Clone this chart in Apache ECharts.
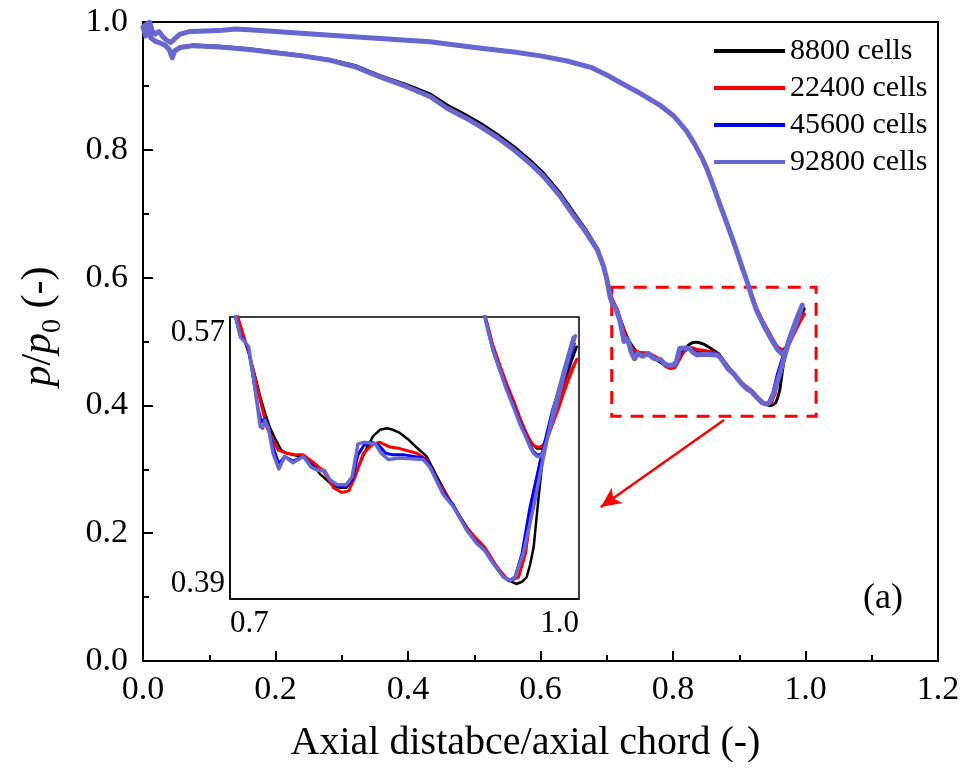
<!DOCTYPE html>
<html>
<head>
<meta charset="utf-8">
<script src="https://cdn.jsdelivr.net/npm/echarts@6/dist/echarts.min.js"></script>
<style>html,body{margin:0;padding:0;background:#fff;}#c{width:963px;height:776px;}</style>
</head>
<body>
<div id="c"></div>
<script>
// ---------- data ----------
const seriesNames = ['8800 cells', '22400 cells', '45600 cells', '92800 cells'];
const seriesColors = ['#000000', '#ff0000', '#0000ff', '#6767cf'];

// suction side (lower curve), leading part shared by the finer meshes
const ssFront = [[0,0.992],[0.004,0.978],[0.008,0.990],[0.012,0.975],[0.018,0.970],[0.026,0.967],[0.034,0.963],[0.040,0.956],[0.044,0.944],[0.048,0.955],[0.056,0.960],[0.076,0.963],[0.116,0.961],[0.16,0.957],[0.20,0.952],[0.24,0.947],[0.283,0.940],[0.32,0.930],[0.358,0.914],[0.40,0.898],[0.434,0.883],[0.459,0.865],[0.485,0.851],[0.51,0.836],[0.535,0.819],[0.56,0.800],[0.585,0.778],[0.605,0.758],[0.63,0.727],[0.65,0.697],[0.668,0.672],[0.686,0.643],[0.695,0.618],[0.700,0.598]];
const ssFront8800 = [[0,0.992],[0.004,0.980],[0.008,0.988],[0.012,0.976],[0.018,0.971],[0.026,0.968],[0.034,0.964],[0.040,0.958],[0.044,0.950],[0.048,0.956],[0.056,0.961],[0.076,0.964],[0.116,0.962],[0.16,0.958],[0.20,0.953],[0.24,0.948],[0.283,0.941],[0.32,0.932],[0.358,0.916],[0.40,0.901],[0.434,0.887],[0.459,0.870],[0.485,0.856],[0.51,0.841],[0.535,0.824],[0.56,0.805],[0.585,0.783],[0.605,0.763],[0.63,0.732],[0.65,0.702],[0.668,0.676],[0.686,0.646],[0.695,0.620],[0.700,0.600]];

const ss8800Tail = [[0.704,0.582],[0.707,0.569],[0.712,0.557],[0.717,0.545],[0.722,0.531],[0.726,0.519],[0.730,0.509],[0.734,0.500],[0.739,0.492],[0.744,0.485],[0.749,0.483],[0.754,0.482],[0.760,0.481],[0.766,0.480],[0.772,0.476],[0.777,0.470],[0.783,0.466],[0.789,0.462],[0.795,0.461],[0.800,0.461],[0.806,0.467],[0.812,0.477],[0.818,0.487],[0.823,0.494],[0.829,0.498],[0.835,0.499],[0.840,0.498],[0.846,0.496],[0.853,0.492],[0.860,0.487],[0.869,0.481],[0.878,0.468],[0.889,0.453],[0.9035,0.436],[0.912,0.428],[0.918,0.423],[0.924,0.416],[0.929,0.411],[0.935,0.405],[0.939,0.402],[0.946,0.3996],[0.951,0.401],[0.955,0.404],[0.958,0.412],[0.961,0.423],[0.965,0.453],[0.969,0.481],[0.973,0.495],[0.978,0.508],[0.987,0.528],[0.998,0.551]];
const ss22400Tail = [[0.707,0.569],[0.717,0.545],[0.726,0.517],[0.7315,0.500],[0.737,0.491],[0.7416,0.485],[0.749,0.483],[0.757,0.482],[0.763,0.482],[0.772,0.477],[0.780,0.472],[0.789,0.461],[0.796,0.458],[0.802,0.459],[0.8075,0.468],[0.8146,0.483],[0.823,0.489],[0.829,0.490],[0.8376,0.487],[0.846,0.486],[0.8605,0.483],[0.869,0.479],[0.878,0.466],[0.889,0.453],[0.9035,0.435],[0.919,0.423],[0.929,0.411],[0.938,0.403],[0.942,0.402],[0.948,0.404],[0.954,0.419],[0.9595,0.449],[0.967,0.479],[0.975,0.500],[0.984,0.519],[0.992,0.534],[0.998,0.543]];
const ss45600Tail = [[0.705,0.569],[0.709,0.558],[0.713,0.554],[0.716,0.549],[0.720,0.531],[0.724,0.512],[0.727,0.503],[0.730,0.505],[0.733,0.500],[0.737,0.487],[0.742,0.476],[0.747,0.481],[0.754,0.478],[0.763,0.481],[0.770,0.475],[0.776,0.472],[0.781,0.472],[0.786,0.466],[0.792,0.462],[0.800,0.462],[0.805,0.466],[0.810,0.482],[0.815,0.488],[0.822,0.490],[0.828,0.488],[0.834,0.483],[0.840,0.482],[0.850,0.482],[0.866,0.480],[0.872,0.475],[0.883,0.458],[0.892,0.450],[0.9035,0.434],[0.912,0.426],[0.919,0.421],[0.926,0.413],[0.935,0.404],[0.940,0.4017],[0.945,0.404],[0.951,0.419],[0.958,0.449],[0.967,0.479],[0.977,0.510],[0.987,0.533],[0.996,0.553]];
const ss92800Tail = [[0.705,0.570],[0.709,0.557],[0.713,0.554],[0.716,0.551],[0.720,0.532],[0.724,0.511],[0.726,0.500],[0.728,0.499],[0.730,0.504],[0.733,0.499],[0.737,0.483],[0.742,0.473],[0.747,0.481],[0.754,0.477],[0.763,0.481],[0.770,0.474],[0.776,0.472],[0.781,0.472],[0.786,0.466],[0.792,0.463],[0.800,0.463],[0.805,0.468],[0.810,0.489],[0.815,0.490],[0.825,0.489],[0.830,0.483],[0.836,0.479],[0.846,0.480],[0.866,0.479],[0.872,0.474],[0.883,0.457],[0.892,0.449],[0.9035,0.434],[0.912,0.4255],[0.919,0.421],[0.926,0.413],[0.935,0.404],[0.941,0.402],[0.945,0.404],[0.952,0.419],[0.961,0.449],[0.969,0.479],[0.978,0.511],[0.987,0.536],[0.995,0.557],[0.997,0.558]];

// pressure side (upper curve)
const psFront = [[0,0.992],[0.006,0.997],[0.010,1.000],[0.014,0.986],[0.018,0.981],[0.024,0.985],[0.030,0.977],[0.036,0.971],[0.042,0.968],[0.048,0.974],[0.056,0.981],[0.070,0.985],[0.095,0.986],[0.12,0.987],[0.14,0.989],[0.16,0.988],[0.20,0.985],[0.26,0.981],[0.30,0.978],[0.358,0.974],[0.433,0.969],[0.51,0.959],[0.56,0.953],[0.60,0.947],[0.64,0.939],[0.676,0.929],[0.70,0.917],[0.721,0.905],[0.751,0.888],[0.78,0.870],[0.802,0.852],[0.82,0.830],[0.832,0.810],[0.843,0.789],[0.852,0.768],[0.862,0.740],[0.872,0.711],[0.882,0.683],[0.892,0.654]];
const ps8800Tail = [[0.905,0.614],[0.913,0.590],[0.920,0.568],[0.926,0.551],[0.932,0.538],[0.938,0.526],[0.944,0.515],[0.949,0.505],[0.954,0.497],[0.958,0.491],[0.961,0.488],[0.964,0.486],[0.967,0.486],[0.969,0.487],[0.973,0.495],[0.978,0.507],[0.983,0.518],[0.987,0.528],[0.992,0.540],[0.998,0.551]];
const ps22400Tail = [[0.905,0.614],[0.913,0.591],[0.920,0.569],[0.926,0.552],[0.932,0.539],[0.938,0.527],[0.944,0.516],[0.949,0.506],[0.954,0.497],[0.958,0.491],[0.961,0.488],[0.964,0.487],[0.967,0.487],[0.970,0.489],[0.974,0.495],[0.978,0.503],[0.983,0.513],[0.987,0.522],[0.992,0.532],[0.998,0.543]];
const ps45600Tail = [[0.905,0.614],[0.913,0.590],[0.920,0.567],[0.926,0.549],[0.932,0.536],[0.938,0.524],[0.944,0.513],[0.949,0.503],[0.954,0.495],[0.958,0.488],[0.961,0.484],[0.964,0.482],[0.967,0.482],[0.969,0.484],[0.973,0.494],[0.978,0.507],[0.983,0.520],[0.987,0.531],[0.992,0.543],[0.996,0.553]];
const ps92800Tail = [[0.905,0.614],[0.913,0.590],[0.920,0.567],[0.926,0.549],[0.932,0.536],[0.938,0.523],[0.944,0.512],[0.949,0.502],[0.954,0.494],[0.958,0.487],[0.961,0.483],[0.964,0.481],[0.967,0.481],[0.969,0.483],[0.973,0.493],[0.978,0.506],[0.983,0.520],[0.987,0.532],[0.992,0.546],[0.997,0.557]];

// axes ticks / annotations
const mainXTickStep = 0.2;
const mainYTickStep = 0.2;
const insetXTicks = [0.7, 1.0];
const insetYTicks = [0.39, 0.57];
const zoomBox = [[0.7075, 0.585], [1.016, 0.383]];
const arrowLine = [[0.877, 0.377], [0.691, 0.241]];

// ---------- build ----------
const FONT = '"Liberation Serif", "Times New Roman", serif';
const ssList = [ssFront8800.concat(ss8800Tail), ssFront.concat(ss22400Tail), ssFront.concat(ss45600Tail), ssFront.concat(ss92800Tail)];
const psList = [psFront.concat(ps8800Tail), psFront.concat(ps22400Tail), psFront.concat(ps45600Tail), psFront.concat(ps92800Tail)];
const loops = ssList.map((ss, i) => ss.concat(psList[i].slice().reverse()));
const mainWidths = [3, 3.5, 3.5, 5];
const insetWidths = [2.5, 3, 3, 3.5];

const series = [];
loops.forEach((d, i) => {
  const s = {
    name: seriesNames[i], type: 'line', data: d, xAxisIndex: 0, yAxisIndex: 0,
    showSymbol: false, symbol: 'none', smooth: false, clip: true,
    lineStyle: { color: seriesColors[i], width: mainWidths[i], join: 'round', cap: 'round' },
    itemStyle: { color: seriesColors[i] }, z: 2
  };
  if (i === 0) {
    s.markArea = {
      silent: true,
      itemStyle: { color: 'rgba(0,0,0,0)', borderColor: '#ff0000', borderWidth: 3, borderType: [13, 9] },
      data: [[{ coord: zoomBox[0] }, { coord: zoomBox[1] }]]
    };
    s.markLine = {
      silent: true, symbol: ['none', 'arrow'], symbolSize: [14, 20],
      label: { show: false },
      lineStyle: { color: '#ff0000', width: 2.5, type: 'solid' },
      data: [[{ coord: arrowLine[0] }, { coord: arrowLine[1] }]]
    };
  }
  series.push(s);
});
loops.forEach((d, i) => {
  series.push({
    name: seriesNames[i], type: 'line', data: d, xAxisIndex: 1, yAxisIndex: 1,
    showSymbol: false, symbol: 'none', clip: true,
    lineStyle: { color: seriesColors[i], width: insetWidths[i], join: 'round', cap: 'round' },
    itemStyle: { color: seriesColors[i] }, z: 6
  });
});

const tickStyle = { color: '#000', width: 2 };
const option = {
  animation: false,
  backgroundColor: '#ffffff',
  grid: [
    { left: 143, top: 22, width: 795, height: 639, show: true, borderColor: '#000', borderWidth: 2, backgroundColor: 'rgba(0,0,0,0)' },
    { left: 230, top: 317, width: 349, height: 282, show: true, borderColor: '#000', borderWidth: 1.5, backgroundColor: '#ffffff', z: 3 }
  ],
  xAxis: [
    {
      gridIndex: 0, type: 'value', min: 0, max: 1.2, interval: mainXTickStep,
      axisLine: { show: true, onZero: false, lineStyle: tickStyle },
      axisTick: { show: true, inside: true, length: 10, lineStyle: tickStyle },
      minorTick: { show: true, splitNumber: 2, length: 6, lineStyle: tickStyle },
      splitLine: { show: false },
      axisLabel: { color: '#000', fontSize: 34, fontFamily: FONT, margin: 12, formatter: v => v.toFixed(1) },
      name: 'Axial distabce/axial chord (-)', nameLocation: 'middle', nameGap: 62,
      nameTextStyle: { color: '#000', fontSize: 40, fontFamily: FONT, padding: [0, 30, 0, 0] }
    },
    {
      gridIndex: 1, type: 'value', min: 0.7, max: 1.0, z: 4,
      axisLine: { show: true, onZero: false, lineStyle: { color: '#000', width: 1.5 } },
      axisTick: { show: false }, splitLine: { show: false },
      axisLabel: { color: '#000', fontSize: 31, fontFamily: FONT, margin: 9, customValues: insetXTicks,
        alignMinLabel: 'left', alignMaxLabel: 'right', formatter: v => v.toFixed(1) }
    }
  ],
  yAxis: [
    {
      gridIndex: 0, type: 'value', min: 0, max: 1.0, interval: mainYTickStep,
      axisLine: { show: true, onZero: false, lineStyle: tickStyle },
      axisTick: { show: true, inside: true, length: 10, lineStyle: tickStyle },
      minorTick: { show: true, splitNumber: 2, length: 6, lineStyle: tickStyle },
      splitLine: { show: false },
      axisLabel: { color: '#000', fontSize: 34, fontFamily: FONT, margin: 15, formatter: v => v.toFixed(1) },
      name: '{i|p}{n|/}{i|p}{s|0}{n| (-)}', nameLocation: 'middle', nameGap: 76, nameRotate: 90,
      nameTextStyle: {
        color: '#000', fontSize: 42, fontFamily: FONT, padding: [0, 0, 0, 30],
        rich: {
          i: { fontStyle: 'italic', fontSize: 42, fontFamily: FONT, color: '#000' },
          n: { fontSize: 42, fontFamily: FONT, color: '#000' },
          s: { fontSize: 28, fontFamily: FONT, color: '#000', padding: [28, 0, 0, 0] }
        }
      }
    },
    {
      gridIndex: 1, type: 'value', min: 0.39, max: 0.57, z: 4,
      axisLine: { show: true, onZero: false, lineStyle: { color: '#000', width: 1.5 } },
      axisTick: { show: false }, splitLine: { show: false },
      axisLabel: { color: '#000', fontSize: 31, fontFamily: FONT, margin: 5, customValues: insetYTicks,
        verticalAlignMinLabel: 'bottom', verticalAlignMaxLabel: 'top', formatter: v => v.toFixed(2) }
    }
  ],
  legend: {
    data: seriesNames, orient: 'vertical', left: 709, top: 31,
    icon: 'rect', itemWidth: 71, itemHeight: 4, itemGap: 7,
    textStyle: { color: '#000', fontSize: 30, fontFamily: FONT, lineHeight: 30 }
  },
  graphic: [
    { type: 'text', left: 863, top: 581, z: 10,
      style: { text: '(a)', fontSize: 36, fontFamily: FONT, fill: '#000' } }
  ],
  series: series
};
const chart = echarts.init(document.getElementById('c'), null, { renderer: 'canvas' });
chart.setOption(option);
</script>
</body>
</html>
